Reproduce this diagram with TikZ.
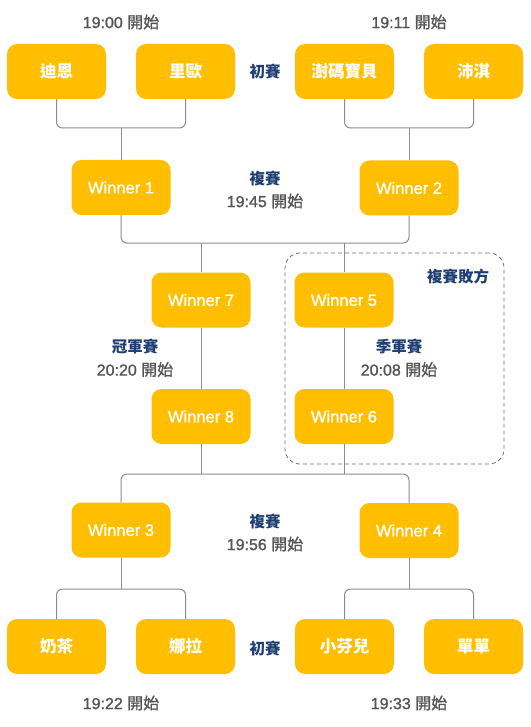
\documentclass[tikz,border=0pt]{standalone}
\usepackage{fontspec}
\setmainfont[FakeBold=1.2]{Liberation Sans}
\newfontfamily\cjk{Noto Sans CJK TC}
\newfontfamily\cjkm[FakeBold=1.2]{Noto Sans CJK TC}
\newcommand\zh[1]{{\cjk\bfseries #1}}
\newcommand\zr[1]{{\cjkm #1}}
\definecolor{amber}{HTML}{FFBE00}
\definecolor{navy}{HTML}{1F3E72}
\definecolor{timegray}{HTML}{555555}
\definecolor{linegray}{HTML}{8C8C8C}
\definecolor{dashgray}{HTML}{6E6E6E}
\begin{document}
\begin{tikzpicture}[x=1pt,y=-1pt,
 box/.style={fill=amber, rounded corners=10pt, minimum width=99pt, minimum height=55pt, inner sep=0pt, text=white, font=\fontsize{16.5}{19}\selectfont},
 conn/.style={draw=linegray, line width=1pt, rounded corners=6pt},
 stage/.style={text=navy, font=\fontsize{15.5}{23}\selectfont\cjk\bfseries, align=center, inner sep=0pt},
 timelbl/.style={text=timegray, font=\fontsize{16}{23}\selectfont, align=center, inner sep=0pt},
 dashbox/.style={draw=dashgray, line width=0.8pt, dash pattern=on 4pt off 3pt, rounded corners=15pt, minimum width=219pt, minimum height=211pt, inner sep=0pt}
 ]
\useasboundingbox (0,0) rectangle (530,727);

% loser bracket frame
\node[dashbox] (loser) at (394.5,358.5) {};
\node[stage] (loserlbl) at (458,277) {複賽敗方};

% top row
\node[timelbl] (t1) at (121,22) {19:00 \zr{開始}};
\node[timelbl] (t2) at (409,22) {19:11 \zr{開始}};
\node[box] (dien) at (56.5,71.5) {\zh{迪恩}};
\node[box] (liou) at (185.5,71.5) {\zh{里歐}};
\node[box] (shuma) at (344.5,71.5) {\zh{澍碼寶貝}};
\node[box] (peiqi) at (473.5,71.5) {\zh{沛淇}};
\node[stage] (r1top) at (265,71) {初賽};

\node[box] (w1) at (121,187.5) {Winner 1};
\node[box] (w2) at (409,188) {Winner 2};
\node[stage] (semitop) at (265,189.5) {複賽\\{\color{timegray}\normalfont\fontsize{16}{23}\selectfont 19:45 \zr{開始}}};

\node[box] (w7) at (201,300) {Winner 7};
\node[box] (w5) at (344,300) {Winner 5};
\node[box] (w8) at (201,416.5) {Winner 8};
\node[box] (w6) at (344,416.5) {Winner 6};
\node[stage] (final) at (135,358) {冠軍賽\\{\color{timegray}\normalfont\fontsize{16}{23}\selectfont 20:20 \zr{開始}}};
\node[stage] (third) at (399,358) {季軍賽\\{\color{timegray}\normalfont\fontsize{16}{23}\selectfont 20:08 \zr{開始}}};

\node[box] (w3) at (121,530) {Winner 3};
\node[box] (w4) at (409,530.5) {Winner 4};
\node[stage] (semibot) at (265,532.5) {複賽\\{\color{timegray}\normalfont\fontsize{16}{23}\selectfont 19:56 \zr{開始}}};

\node[box] (naicha) at (56.5,646.5) {\zh{奶茶}};
\node[box] (nala) at (185.5,646.5) {\zh{娜拉}};
\node[box] (xiaofen) at (344.5,646.5) {\zh{小芬兒}};
\node[box] (dandan) at (473.5,646.5) {\zh{單單}};
\node[stage] (r1bot) at (265,648) {初賽};
\node[timelbl] (t3) at (121,703) {19:22 \zr{開始}};
\node[timelbl] (t4) at (409,703) {19:33 \zr{開始}};

% junctions
\coordinate (j1) at (121,128);
\coordinate (j2) at (409,128);
\coordinate (jt) at (201,243);
\coordinate (jt5) at (344,243);
\coordinate (jb) at (201,474);
\coordinate (jb6) at (344,474);
\coordinate (j3) at (121,589);
\coordinate (j4) at (409,589);

% connectors
\draw[conn] (dien.south) |- (j1) -| (liou.south);
\draw[conn] (j1) -- (w1.north);
\draw[conn] (shuma.south) |- (j2) -| (peiqi.south);
\draw[conn] (j2) -- (w2.north);
\draw[conn] (w1.south) |- (jt) -| (w2.south);
\draw[conn] (jt) -- (w7.north);
\draw[conn] (jt5) -- (w5.north);
\draw[conn] (w7.south) -- (w8.north);
\draw[conn] (w5.south) -- (w6.north);
\draw[conn] (w3.north) |- (jb) -| (w4.north);
\draw[conn] (w8.south) -- (jb);
\draw[conn] (w6.south) -- (jb6);
\draw[conn] (naicha.north) |- (j3) -| (nala.north);
\draw[conn] (w3.south) -- (j3);
\draw[conn] (xiaofen.north) |- (j4) -| (dandan.north);
\draw[conn] (w4.south) -- (j4);
\end{tikzpicture}
\end{document}
